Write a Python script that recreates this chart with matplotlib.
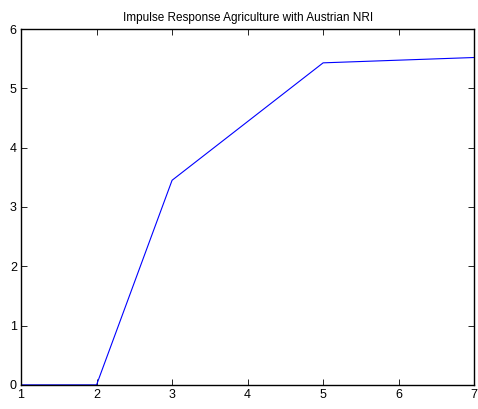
import matplotlib
matplotlib.use('Agg')
import matplotlib.pyplot as plt

# datos de la respuesta al impulso
periodos = [1, 2, 3, 5, 7]
respuesta = [0, 0, 3.45, 5.43, 5.52]

plt.rcParams['font.family'] = ['Liberation Sans', 'DejaVu Sans']

fig = plt.figure(figsize=(4.78, 4.09), dpi=100)
ax = fig.add_axes([0.044, 0.059, 0.948, 0.870])
ax.plot(periodos, respuesta, color='blue', linewidth=0.8)

ax.set_xlim(1, 7)
ax.set_ylim(0, 6)
ax.set_xticks(range(1, 8))
ax.set_yticks(range(0, 7))
ax.tick_params(direction='in', top=True, right=True, labelsize=9, length=4, width=0.6, pad=3)
for s in ax.spines.values():
    s.set_linewidth(1.0)
ax.set_title('Impulse Response Agriculture with Austrian NRI', fontsize=8.5, pad=6)

fig.savefig('out.png', dpi=100)
